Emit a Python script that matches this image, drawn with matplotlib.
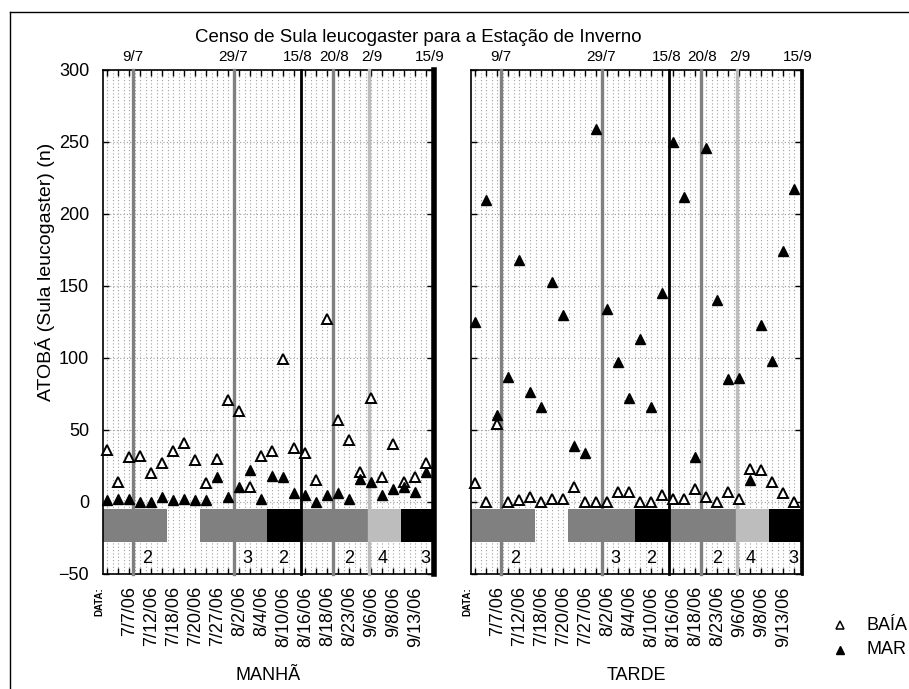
import numpy as np
import matplotlib.pyplot as plt
import matplotlib.transforms as mtransforms
from matplotlib.lines import Line2D
from matplotlib.ticker import MultipleLocator

plt.rcParams['font.family'] = ['Liberation Sans', 'DejaVu Sans']

# contagens por amostra (30 amostras em cada periodo)
baia_manha = [36, 14, 31, 32, 20, 27, 35, 41, 29, 13, 30, 71, 63, 10, 32,
              35, 99, 37, 34, 15, 127, 57, 43, 21, 72, 17, 40, 14, 17, 27]
mar_manha = [1, 2, 2, 0, 0, 3, 1, 2, 1, 1, 17, 3, 10, 22, 2,
             18, 17, 6, 5, 0, 5, 6, 2, 16, 14, 5, 9, 10, 7, 21]
baia_tarde = [13, 0, 54, 0, 1, 3, 0, 2, 2, 10, 0, 0, 0, 7, 7,
              0, 0, 5, 2, 2, 9, 3, 0, 7, 2, 23, 22, 14, 6, 0]
mar_tarde = [125, 210, 60, 87, 168, 76, 66, 153, 130, 39, 34, 259, 134, 97, 72,
             113, 66, 145, 250, 212, 31, 246, 140, 85, 86, 15, 123, 98, 174, 217]

datas = ['7/7/06', '7/12/06', '7/18/06', '7/20/06', '7/27/06', '8/2/06', '8/4/06',
         '8/10/06', '8/16/06', '8/18/06', '8/23/06', '9/6/06', '9/8/06', '9/13/06']
pos_datas = [3, 5, 7, 9, 11, 13, 15, 17, 19, 21, 23, 25, 27, 29]

# eventos marcados no topo (linha e posicao do rotulo)
eventos = ['9/7', '29/7', '15/8', '20/8', '2/9', '15/9']
pos_eventos = [3.35, 12.55, 18.6, 21.55, 24.75, 30.65]
pos_rot_eventos = [3.35, 12.4, 18.35, 21.6, 25.0, 30.3]
cor_eventos = ['#808080', '#808080', 'black', '#808080', '#bdbdbd', 'black']

# faixas de condicao do mar
faixa_ini = [0.6, 9.43, 15.55, 18.6, 24.78, 27.65]
faixa_fim = [6.45, 15.5, 18.6, 24.78, 27.65, 30.7]
faixa_cor = ['#808080', '#808080', 'black', '#808080', '#bdbdbd', 'black']
faixa_num = ['2', '3', '2', '2', '4', '3']
pos_num = [4.6, 13.7, 17.0, 23.0, 26.05, 29.9]

W, H = 909, 689
fig = plt.figure(figsize=(W / 100, H / 100), dpi=100)

# moldura
fig.add_artist(Line2D([10 / W, 10 / W], [0, 1 - 12 / H], color='black', lw=1))
fig.add_artist(Line2D([10 / W, 1], [1 - 12 / H, 1 - 12 / H], color='black', lw=1))

x = np.arange(1, 31)
fs = 13


def painel(left, baia, mar, nome, ylabels, lw_fim):
    ax = fig.add_axes([left / W, 1 - 573.7 / H, 330 / W, 503.7 / H])
    ax.set_xlim(0.6, 30.6)
    ax.set_ylim(-50, 300)

    ax.xaxis.set_major_locator(MultipleLocator(1))
    ax.xaxis.set_minor_locator(MultipleLocator(0.5))
    ax.yaxis.set_major_locator(MultipleLocator(50))
    ax.grid(True, which='both', axis='x', color='#a0a0a0', lw=0.8, ls=(0, (1, 2)))
    ax.grid(True, which='major', axis='y', color='#a0a0a0', lw=0.8, ls=(0, (1, 2)))
    ax.set_axisbelow(True)

    ax.tick_params(which='major', direction='in', length=4, width=1,
                   top=True, right=True, labelsize=fs, pad=9)
    ax.tick_params(which='minor', length=0)
    ax.tick_params(axis='y', pad=10)
    if not ylabels:
        ax.tick_params(axis='y', labelleft=False)

    labs = [''] * 30
    for p, d in zip(pos_datas, datas):
        labs[p - 1] = d
    ax.set_xticks(x)
    ax.set_xticklabels(labs, rotation=90, fontsize=fs)

    for s in ax.spines.values():
        s.set_linewidth(1.2)

    for a, b, c in zip(faixa_ini, faixa_fim, faixa_cor):
        ax.fill_between([a, b], -28, -5, color=c, lw=0, zorder=2)

    for p, pr, c, lab in zip(pos_eventos, pos_rot_eventos, cor_eventos, eventos):
        lw = 2.4 if c != 'black' else 2.0
        if lab == '15/9':
            lw = lw_fim
        ax.axvline(p, color=c, lw=lw, zorder=3, clip_on=False)
        ax.text(pr, 304, lab, ha='center', va='bottom', fontsize=11)

    for p, n in zip(pos_num, faixa_num):
        ax.text(p, -39.5, n, ha='center', va='center', fontsize=fs, zorder=4)

    ax.plot(x, baia, ls='none', marker='^', ms=7.8, mfc='white', mec='black',
            mew=1.4, zorder=5, clip_on=False)
    ax.plot(x, mar, ls='none', marker='^', ms=7.8, mfc='black', mec='black',
            mew=1.0, zorder=6, clip_on=False)

    tr = mtransforms.blended_transform_factory(ax.transData, ax.transAxes)
    ax.text(0.3, -0.026, 'DATA:', rotation=90, ha='center', va='top',
            fontsize=7, fontweight='bold', transform=tr)
    fig.text((left + 165) / W, 1 - 676 / H, nome, ha='center', va='center', fontsize=fs)
    return ax


painel(103, baia_manha, mar_manha, 'MANHÃ', True, 4.0)
painel(471, baia_tarde, mar_tarde, 'TARDE', False, 2.0)

fig.text(418 / W, 1 - 38 / H, 'Censo de Sula leucogaster para a Estação de Inverno',
         ha='center', va='center', fontsize=13.4)
fig.text(45 / W, 1 - 272 / H, 'ATOBÁ (Sula leucogaster) (n)', rotation=90,
         ha='center', va='center', fontsize=14)

# legenda
fig.add_artist(Line2D([840 / W], [1 - 625 / H], marker='^', ms=6, mfc='white',
                      mec='black', mew=1.1, ls='none'))
fig.add_artist(Line2D([840 / W], [1 - 650 / H], marker='^', ms=6, mfc='black',
                      mec='black', ls='none'))
fig.text(866 / W, 1 - 625 / H, 'BAÍA', ha='left', va='center', fontsize=fs)
fig.text(866 / W, 1 - 650 / H, 'MAR', ha='left', va='center', fontsize=fs)

fig.savefig('out.png', dpi=100)
